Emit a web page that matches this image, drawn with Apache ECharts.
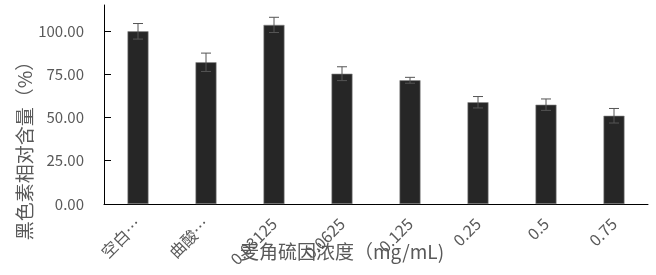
<!DOCTYPE html>
<html><head><meta charset="utf-8">
<script src="https://cdn.jsdelivr.net/npm/echarts@6/dist/echarts.min.js"></script>
<style>html,body{margin:0;padding:0;background:#fff}#c{width:656px;height:275px}</style>
</head><body><div id="c"></div>
<script>
const categories = ['空白…', '曲酸…', '0.03125', '0.0625', '0.125', '0.25', '0.5', '0.75'];
const values = [99.8, 81.9, 103.5, 75.3, 71.5, 58.8, 57.4, 51.0];
const errors = [4.5, 5.3, 4.4, 4.0, 1.7, 3.3, 3.3, 4.2];
const yTicks = [0, 25, 50, 75, 100];

const font = '"Noto Sans CJK SC", "Microsoft YaHei", sans-serif';
const chart = echarts.init(document.getElementById('c'), null, {renderer: 'canvas'});
chart.setOption({
  animation: false,
  backgroundColor: '#fff',
  grid: {left: 104, right: 8, top: 5, bottom: 71},
  title: {
    text: '麦角硫因浓度（mg/mL)', left: 240, top: 242, padding: 0,
    textStyle: {fontFamily: font, fontSize: 19, fontWeight: 'normal', color: '#595959'}
  },
  graphic: [{
    type: 'text', x: 25, y: 146, rotation: Math.PI / 2,
    style: {text: '黑色素相对含量（%）', fontFamily: font, fontSize: 19, fill: '#595959',
      textAlign: 'center', textVerticalAlign: 'middle'}
  }],
  xAxis: {
    type: 'category', data: categories, boundaryGap: true,
    axisLine: {lineStyle: {color: '#000', width: 1}},
    axisTick: {inside: true, length: 6, lineStyle: {color: '#000'}},
    axisLabel: {rotate: 45, margin: 17, fontFamily: font, fontSize: 16, color: '#595959', interval: 0}
  },
  yAxis: {
    type: 'value', min: 0, max: 115, interval: 25,
    splitLine: {show: false},
    axisLine: {show: true, lineStyle: {color: '#000', width: 1}},
    axisTick: {show: true, inside: true, length: 7, lineStyle: {color: '#000'}, customValues: yTicks},
    axisLabel: {fontFamily: font, fontSize: 15, color: '#595959', margin: 20,
      customValues: yTicks, formatter: v => v.toFixed(2)}
  },
  series: [{
    type: 'bar', data: values, barWidth: 21,
    itemStyle: {color: '#262626', borderColor: '#8a8a8a', borderWidth: 0.6}
  }, {
    type: 'custom',
    data: values.map((v, i) => [i, v - errors[i], v + errors[i]]),
    renderItem: function (params, api) {
      const lo = api.coord([api.value(0), api.value(1)]);
      const hi = api.coord([api.value(0), api.value(2)]);
      const hw = 5;
      const st = {stroke: '#555', lineWidth: 1};
      return {type: 'group', children: [
        {type: 'line', shape: {x1: hi[0], y1: hi[1], x2: lo[0], y2: lo[1]}, style: st},
        {type: 'line', shape: {x1: hi[0] - hw, y1: hi[1], x2: hi[0] + hw, y2: hi[1]}, style: st},
        {type: 'line', shape: {x1: lo[0] - hw, y1: lo[1], x2: lo[0] + hw, y2: lo[1]}, style: st}
      ]};
    },
    z: 10
  }]
});
</script></body></html>
